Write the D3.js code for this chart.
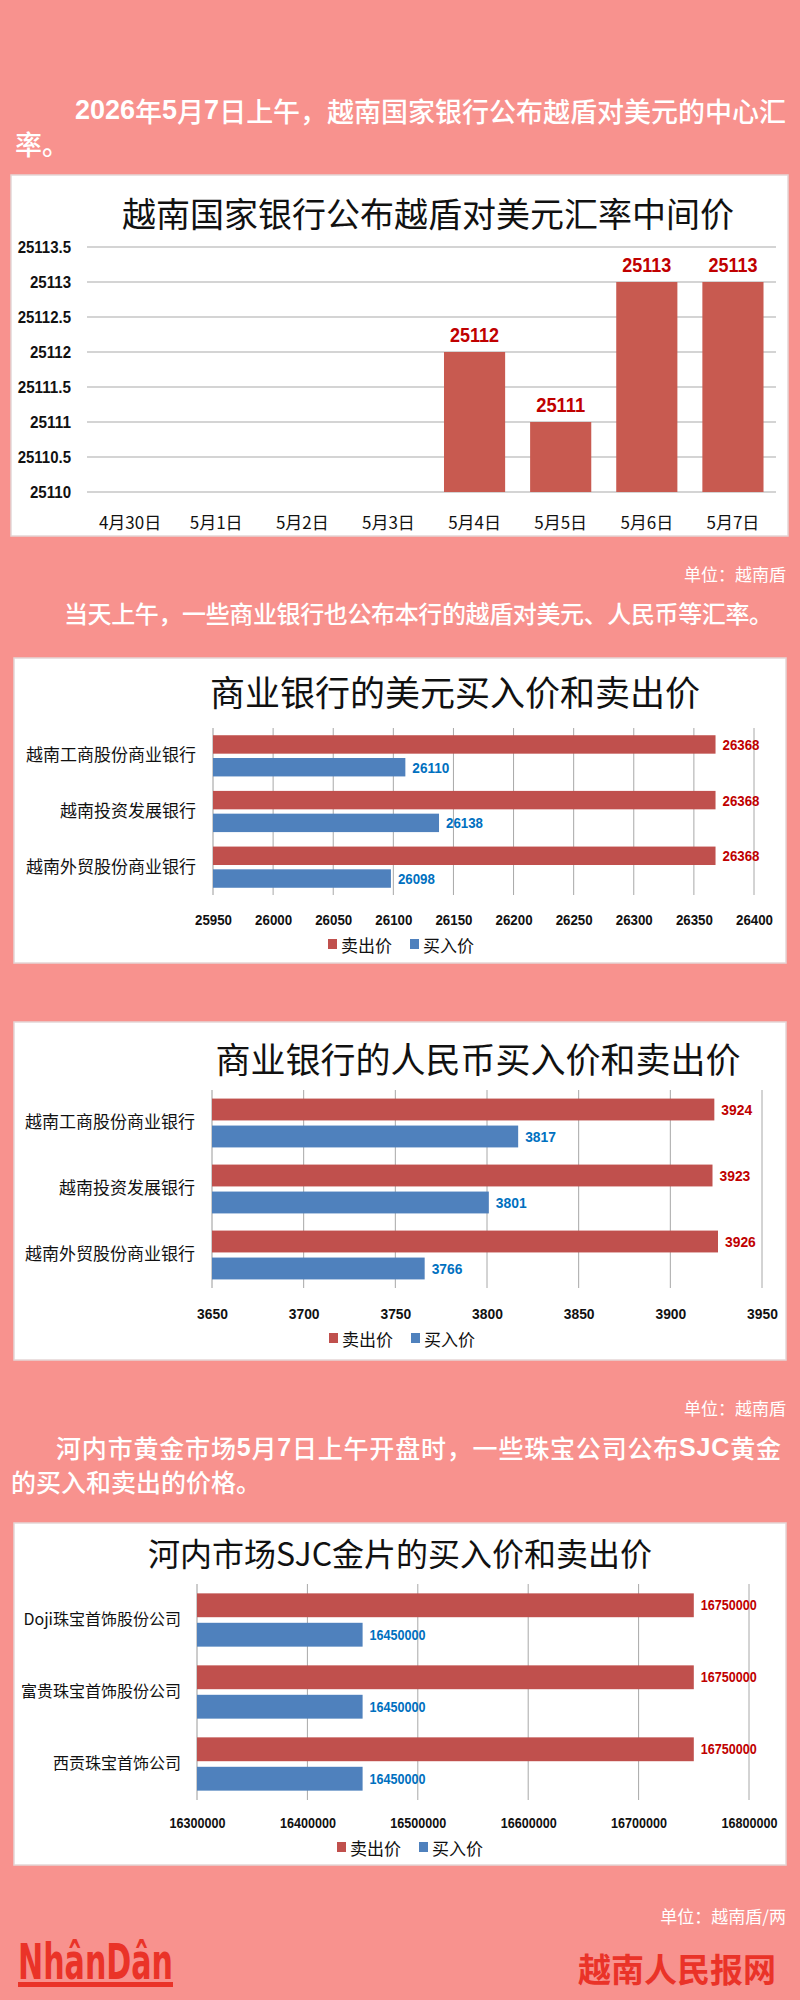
<!DOCTYPE html>
<html><head><meta charset="utf-8">
<script src="https://cdn.jsdelivr.net/npm/d3@7"></script>
<style>
html,body{margin:0;padding:0;background:#f8928e;}
svg{display:block;}
</style></head>
<body>
<script>
// ---------- DATA ----------
const rateDates = ["4月30日","5月1日","5月2日","5月3日","5月4日","5月5日","5月6日","5月7日"];
const rateValues = [null,null,null,null,25112,25111,25113,25113];
const rateTicks = [25110,25110.5,25111,25111.5,25112,25112.5,25113,25113.5];

const banks = ["越南工商股份商业银行","越南投资发展银行","越南外贸股份商业银行"];
const seriesNames = ["卖出价","买入价"];
const usdSell = [26368,26368,26368];
const usdBuy = [26110,26138,26098];
const usdTicks = [25950,26000,26050,26100,26150,26200,26250,26300,26350,26400];

const cnySell = [3924,3923,3926];
const cnyBuy = [3817,3801,3766];
const cnyTicks = [3650,3700,3750,3800,3850,3900,3950];

const goldCompanies = ["Doji珠宝首饰股份公司","富贵珠宝首饰股份公司","西贡珠宝首饰公司"];
const goldSell = [16750000,16750000,16750000];
const goldBuy = [16450000,16450000,16450000];
const goldTicks = [16300000,16400000,16500000,16600000,16700000,16800000];

// ---------- STYLE ----------
const BG = "#f8928e", RED = "#c0504d", BLUE = "#4f81bd", LRED = "#c00000", LBLUE = "#0070c0";
const CJK = "'Noto Sans CJK SC','Noto Sans',sans-serif";
const NUM = "'Liberation Sans','DejaVu Sans',sans-serif";

const svg = d3.select("body").append("svg").attr("width",800).attr("height",2000);
svg.append("rect").attr("width",800).attr("height",2000).attr("fill",BG);

// squeeze numeric labels to a condensed width (per character)
function condense(sel, perChar){
  sel.each(function(){
    const s = d3.select(this).text();
    let n = 0; for(const ch of s) n += (ch==="." ? 0.5 : 1);
    d3.select(this).attr("textLength", n*perChar).attr("lengthAdjust","spacingAndGlyphs");
  });
}

function para(x, y, str, size, len){
  const t = svg.append("text").attr("x",x).attr("y",y).attr("fill","#fff")
    .attr("font-family",CJK).attr("font-size",size).attr("font-weight",500)
    .attr("dominant-baseline","central");
  const parts = str.split(/([0-9A-Z]+)/);
  parts.forEach(p=>{ if(!p) return; const ts=t.append("tspan").text(p);
    if(/^[0-9A-Z]+$/.test(p)) ts.attr("font-weight",700).attr("font-family","'Liberation Sans','Noto Sans',sans-serif"); });
  if(len) t.attr("textLength",len).attr("lengthAdjust","spacing");
  return t;
}
function unit(y, str){
  svg.append("text").attr("x",786).attr("y",y).attr("text-anchor","end").attr("fill","#fff")
    .attr("font-family",CJK).attr("font-size",17).attr("dominant-baseline","central").text(str);
}
function panel(x,y,w,h){
  svg.append("rect").attr("x",x).attr("y",y).attr("width",w).attr("height",h)
    .attr("fill","#fff").attr("stroke","#e4d6d6").attr("stroke-width",1.5);
}

// ---------- TOP TEXT ----------
para(75,110,"2026年5月7日上午，越南国家银行公布越盾对美元的中心汇",27,711);
para(15,143,"率。",27);

// ---------- CHART 1 ----------
panel(11,175,777,361);
svg.append("text").attr("x",428).attr("y",212).attr("text-anchor","middle").attr("dominant-baseline","central")
  .attr("font-family",CJK).attr("font-size",34).attr("fill","#111").text("越南国家银行公布越盾对美元汇率中间价");
{
  const x = d3.scaleBand().domain(rateDates).range([87,776]).paddingInner(0.29).paddingOuter(0.145);
  const y = d3.scaleLinear().domain([25110,25113.5]).range([492,247]);
  const g = svg.append("g");
  g.selectAll("line.grid").data(rateTicks).join("line")
    .attr("x1",87).attr("x2",776).attr("y1",d=>y(d)).attr("y2",d=>y(d))
    .attr("stroke","#d4d4d4").attr("stroke-width",2);
  const ya = d3.axisLeft(y).tickValues(rateTicks).tickSize(0).tickPadding(16).tickFormat(d=>d3.format("")(d));
  const yg = g.append("g").attr("transform","translate(87,0)").call(ya);
  yg.select(".domain").remove();
  yg.selectAll("text").attr("font-family",NUM).attr("font-weight",700).attr("font-size",16).attr("fill","#111");
  condense(yg.selectAll("text"), 8.2);
  const xa = d3.axisBottom(x).tickSize(0).tickPadding(17);
  const xg = g.append("g").attr("transform","translate(0,500)").call(xa);
  xg.select(".domain").remove();
  xg.selectAll("text").attr("font-family",CJK).attr("font-size",17).attr("fill","#111");
  const data = rateDates.map((d,i)=>({d,v:rateValues[i]})).filter(o=>o.v!=null);
  g.selectAll("rect.bar").data(data).join("rect")
    .attr("x",o=>x(o.d)).attr("width",x.bandwidth()).attr("y",o=>y(o.v)).attr("height",o=>y(25110)-y(o.v))
    .attr("fill","#c85a50");
  const labs = g.selectAll("text.lab").data(data).join("text")
    .attr("x",o=>x(o.d)+x.bandwidth()/2).attr("y",o=>y(o.v)-17).attr("text-anchor","middle")
    .attr("dominant-baseline","central").attr("font-family",NUM).attr("font-weight",700)
    .attr("font-size",20).attr("fill",LRED).text(o=>o.v);
  condense(labs, 9.8);
}

unit(573,"单位：越南盾");
para(64,612,"当天上午，一些商业银行也公布本行的越盾对美元、人民币等汇率。",24,709);

// ---------- HORIZONTAL CHART HELPER ----------
function hbar(o){
  panel(o.px, o.py, o.pw, o.ph);
  svg.append("text").attr("x",o.titleX).attr("y",o.titleY).attr("text-anchor","middle").attr("dominant-baseline","central")
    .attr("font-family",CJK).attr("font-size",o.titleSize).attr("fill","#111").text(o.title);
  const x = d3.scaleLinear().domain([o.ticks[0], o.ticks[o.ticks.length-1]]).range([o.x0,o.x1]);
  const y = d3.scaleBand().domain(o.cats).range([o.y0,o.y1]);
  const grpH = y.bandwidth()*0.74;
  const inner = d3.scaleBand().domain(seriesNames).range([0,grpH]).paddingInner(0.19);
  const g = svg.append("g");
  g.selectAll("line.grid").data(o.ticks).join("line")
    .attr("x1",d=>x(d)).attr("x2",d=>x(d)).attr("y1",o.y0).attr("y2",o.y1)
    .attr("stroke",(d,i)=>i===0?"#9a9a9a":"#a8a8a8").attr("stroke-width",1);
  const xa = d3.axisBottom(x).tickValues(o.ticks).tickSize(0).tickPadding(o.tickPad).tickFormat(d=>d3.format("")(d));
  const xg = g.append("g").attr("transform",`translate(0,${o.y1})`).call(xa);
  xg.select(".domain").remove();
  xg.selectAll("text").attr("font-family",NUM).attr("font-weight",700).attr("font-size",o.tickSize).attr("fill","#111");
  condense(xg.selectAll("text"), o.numW);
  const ya = d3.axisLeft(y).tickSize(0).tickPadding(o.catPad);
  const yg = g.append("g").attr("transform",`translate(${o.x0},0)`).call(ya);
  yg.select(".domain").remove();
  yg.selectAll("text").attr("font-family",CJK).attr("font-size",o.catSize).attr("fill","#111");
  const rows = [];
  o.cats.forEach((c,i)=>{
    rows.push({c,s:seriesNames[0],v:o.sell[i],col:RED,lc:LRED});
    rows.push({c,s:seriesNames[1],v:o.buy[i],col:BLUE,lc:LBLUE});
  });
  const off = (y.bandwidth()-grpH)/2;
  g.selectAll("rect.bar").data(rows).join("rect")
    .attr("x",o.x0).attr("y",r=>y(r.c)+off+inner(r.s)).attr("height",inner.bandwidth())
    .attr("width",r=>x(r.v)-o.x0).attr("fill",r=>r.col);
  const labs = g.selectAll("text.lab").data(rows).join("text")
    .attr("x",r=>x(r.v)+7).attr("y",r=>y(r.c)+off+inner(r.s)+inner.bandwidth()/2)
    .attr("dominant-baseline","central").attr("font-family",NUM).attr("font-weight",700)
    .attr("font-size",o.labSize).attr("fill",r=>r.lc).text(r=>r.v);
  condense(labs, o.numW);
  // legend
  const lg = g.append("g");
  const items = [{n:seriesNames[0],c:RED,x:o.legX},{n:seriesNames[1],c:BLUE,x:o.legX+82}];
  items.forEach(it=>{
    lg.append("rect").attr("x",it.x).attr("y",o.legY-5).attr("width",9).attr("height",10).attr("fill",it.c);
    lg.append("text").attr("x",it.x+13).attr("y",o.legY).attr("dominant-baseline","central")
      .attr("font-family",CJK).attr("font-size",17).attr("fill","#111").text(it.n);
  });
}

// ---------- CHART 2 (USD) ----------
hbar({px:14,py:658,pw:772,ph:305,title:"商业银行的美元买入价和卖出价",titleX:455,titleY:690,titleSize:35,
  cats:banks,sell:usdSell,buy:usdBuy,ticks:usdTicks,x0:213,x1:754,y0:728,y1:895,
  tickPad:19,tickSize:15,catPad:17,catSize:17,labSize:15,numW:7.4,legX:328,legY:944});

// ---------- CHART 3 (CNY) ----------
hbar({px:14,py:1022,pw:772,ph:338,title:"商业银行的人民币买入价和卖出价",titleX:478,titleY:1057,titleSize:35,
  cats:banks,sell:cnySell,buy:cnyBuy,ticks:cnyTicks,x0:212,x1:762,y0:1090,y1:1288,
  tickPad:20,tickSize:15,catPad:17,catSize:17,labSize:15,numW:7.7,legX:329,legY:1338});

unit(1407,"单位：越南盾");
para(56,1447,"河内市黄金市场5月7日上午开盘时，一些珠宝公司公布SJC黄金",25,725);
para(11,1481,"的买入和卖出的价格。",25);

// ---------- CHART 4 (GOLD) ----------
hbar({px:14,py:1523,pw:772,ph:342,title:"河内市场SJC金片的买入价和卖出价",titleX:400,titleY:1552,titleSize:32,
  cats:goldCompanies,sell:goldSell,buy:goldBuy,ticks:goldTicks,x0:197,x1:749,y0:1584,y1:1800,
  tickPad:18,tickSize:14,catPad:16,catSize:16,labSize:14,numW:7.0,legX:337,legY:1847});

unit(1915,"单位：越南盾/两");

// ---------- FOOTER ----------
svg.append("text").attr("x",18).attr("y",1979).attr("fill","#ea3328")
  .attr("font-family","'Liberation Sans Narrow','DejaVu Sans Condensed',sans-serif").attr("font-weight",700)
  .attr("font-size",50).attr("textLength",155).attr("lengthAdjust","spacingAndGlyphs").text("NhânDân");
svg.append("rect").attr("x",18).attr("y",1982).attr("width",155).attr("height",5).attr("fill","#ea3328");
svg.append("text").attr("x",776).attr("y",1968).attr("text-anchor","end").attr("dominant-baseline","central")
  .attr("fill","#ea3328").attr("font-family",CJK).attr("font-weight",700).attr("font-size",33).text("越南人民报网");
</script>
</body></html>
